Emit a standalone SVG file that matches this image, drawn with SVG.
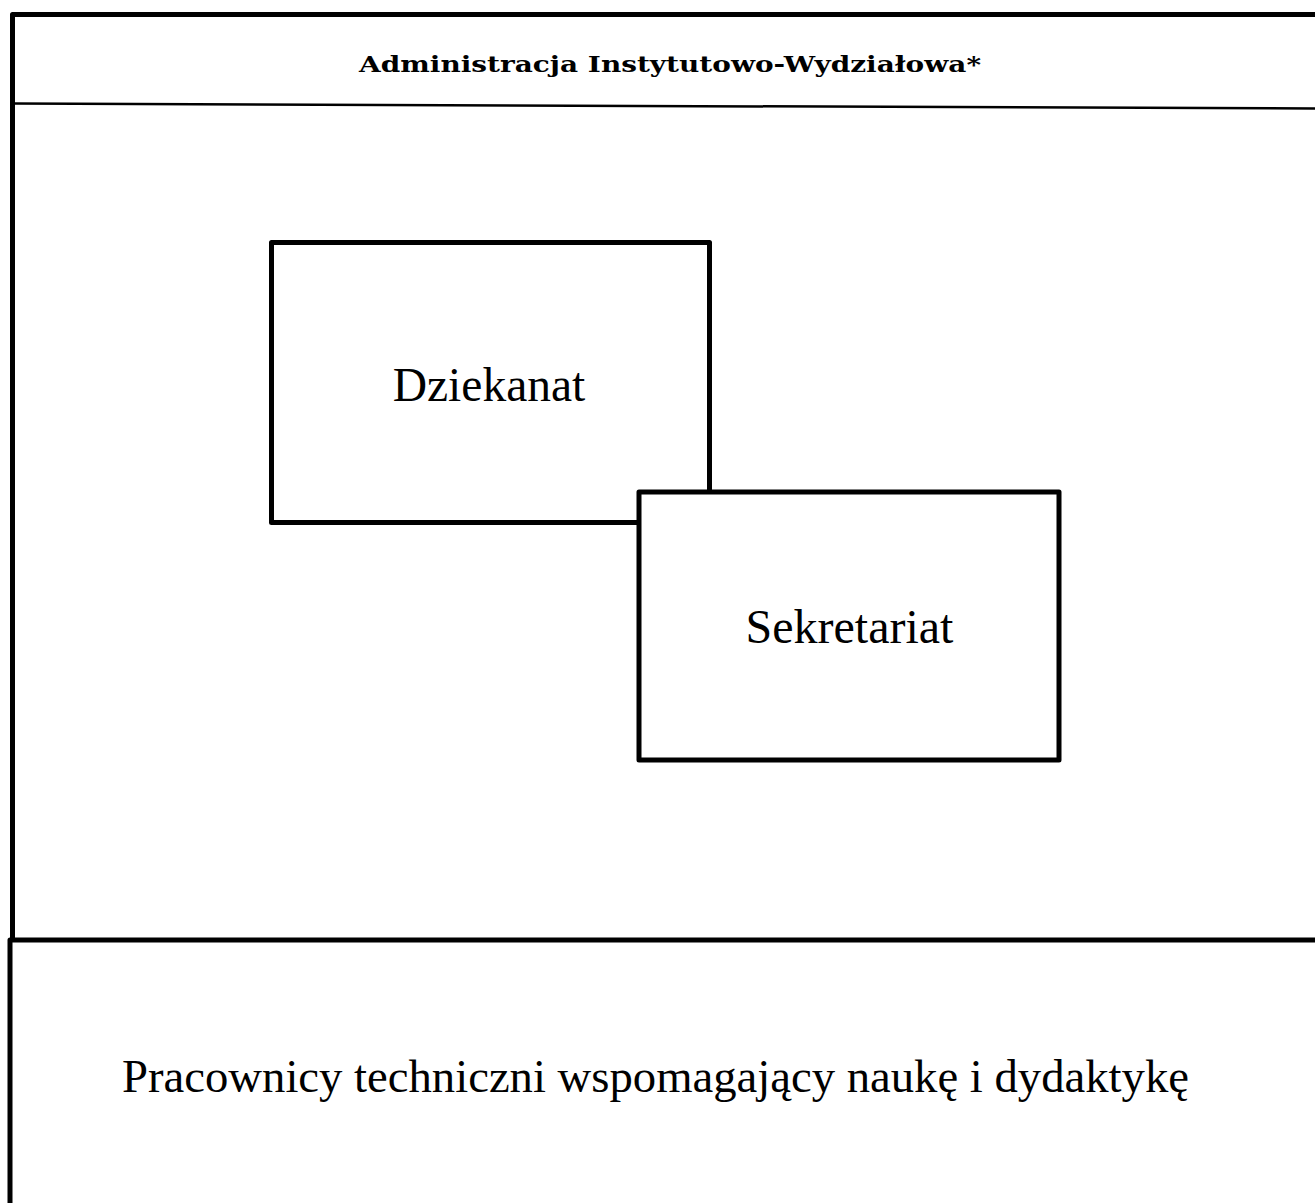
<svg xmlns="http://www.w3.org/2000/svg" width="1315" height="1203" viewBox="0 0 1315 1203">
<style>
.frame{fill:none;stroke:#000;stroke-width:5;stroke-linejoin:round}
.box{fill:#fff;stroke:#000;stroke-width:5;stroke-linejoin:round}
.lbl{font-family:"Liberation Serif","Times New Roman",serif;font-size:48px;fill:#000;text-anchor:middle}
.title{font-family:"DejaVu Serif",serif;font-weight:bold;font-size:23px;fill:#000}
</style>
<rect width="1315" height="1203" fill="#fff"/>
<g id="frame">
<path class="frame" d="M1318,14.5 H12.5 V940"/>
<path d="M14,103.5 L1318,108.5" stroke="#000" stroke-width="2.5" fill="none"/>
<text class="title" x="359" y="72" textLength="622" lengthAdjust="spacingAndGlyphs">Administracja Instytutowo-Wydziałowa*</text>
</g>
<g id="bottom">
<path class="frame" d="M1318,940 H10 V1206"/>
<text class="lbl" x="655.5" y="1092" style="font-size:46.7px">Pracownicy techniczni wspomagający naukę i dydaktykę</text>
</g>
<g id="dziekanat">
<rect class="box" x="271.5" y="242.5" width="438" height="280"/>
<text class="lbl" x="489" y="401" style="font-size:47.5px">Dziekanat</text>
</g>
<g id="sekretariat">
<rect class="box" x="639" y="492" width="420" height="268"/>
<text class="lbl" x="849.5" y="643">Sekretariat</text>
</g>
<g id="connectors"/>
</svg>
